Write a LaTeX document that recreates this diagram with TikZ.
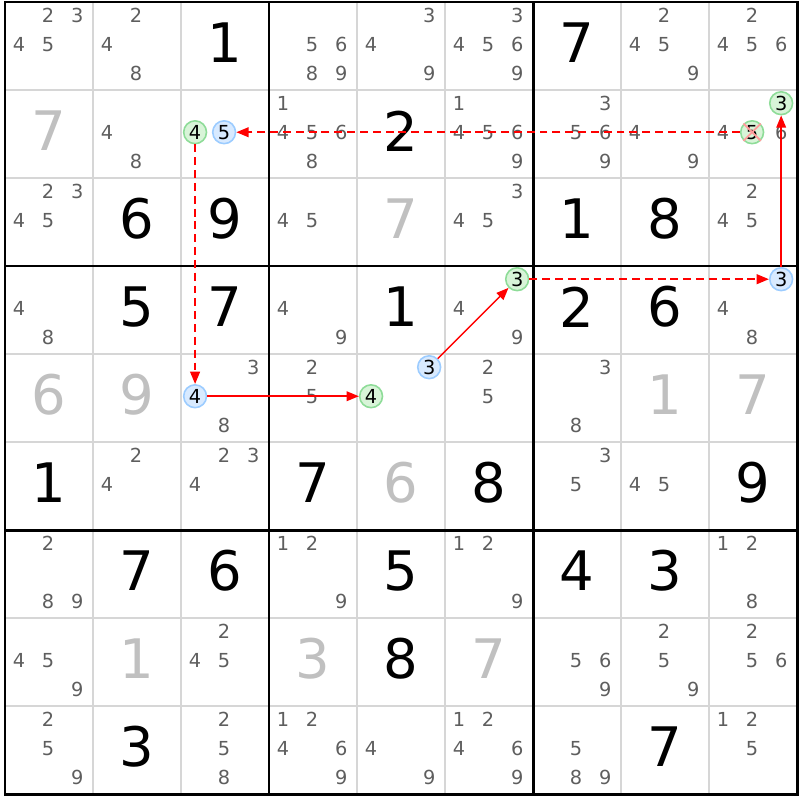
\documentclass[tikz,border=0pt]{standalone}
\usepackage{fontspec}
\setmainfont{DejaVu Sans}
\usetikzlibrary{arrows.meta}
\definecolor{pencil}{HTML}{5E5E5E}
\definecolor{faintgray}{HTML}{C0C0C0}
\definecolor{gridgray}{HTML}{D6D6D6}
\definecolor{onfill}{HTML}{D8F4D8}
\definecolor{ongreen}{HTML}{8EDC98}
\definecolor{offfill}{HTML}{D8EAFF}
\definecolor{offblue}{HTML}{9CCCFF}
\definecolor{xpink}{HTML}{FF9C9C}
\definecolor{linkred}{HTML}{FF0000}
\tikzset{
  cand/.style={inner sep=0pt, text=pencil, font=\fontsize{11}{11}\selectfont},
  given/.style={inner sep=0pt, font=\fontsize{31}{31}\selectfont},
  faint/.style={given, text=faintgray},
  oncand/.style={circle, draw=ongreen, fill=onfill, text=black, line width=0.9pt, minimum size=13pt},
  offcand/.style={circle, draw=offblue, fill=offfill, text=black, line width=0.9pt, minimum size=13pt},
  thingrid/.style={draw=gridgray, line width=0.85pt},
  boxline/.style={line width=1.7pt},
  stronglink/.style={color=linkred, line width=0.9pt, -{Triangle[length=7pt,width=5.5pt]}},
  weaklink/.style={stronglink, line width=1.1pt, dash pattern=on 4.5pt off 2.8pt},
  elim/.style={draw=xpink, line width=1.1pt}
}
\newcommand\cand[4][]{\node[cand,#1] (n-#2-#3-#4) at ({#3-0.84+0.33*mod(#4-1,3)},{#2-0.85+0.33*int((#4-1)/3)}) {#4};}
\newcommand\cands[3]{\foreach \d in {#3}{\cand{#1}{#2}{\d}}}
\newcommand\givendigit[4][given]{\node[#1] (g-#2-#3) at (#3-0.5,#2-0.535) {#4};}
\begin{document}
\begin{tikzpicture}[x=1.76cm,y=-1.76cm]
  \useasboundingbox (-0.056818,-0.022727) rectangle (9.034091,9.068182);
  \foreach \i in {1,2,4,5,7,8}
    \draw[thingrid] (\i,0) -- (\i,9) (0,\i) -- (9,\i);
  \foreach \i in {3,6}
    \draw[boxline] (\i,0) -- (\i,9) (0,\i) -- (9,\i);
  \draw[boxline] (0,0) rectangle (9,9);

  \givendigit{1}{3}{1}
  \givendigit{1}{7}{7}
  \givendigit[faint]{2}{1}{7}
  \givendigit{2}{5}{2}
  \givendigit{3}{2}{6}
  \givendigit{3}{3}{9}
  \givendigit[faint]{3}{5}{7}
  \givendigit{3}{7}{1}
  \givendigit{3}{8}{8}
  \givendigit{4}{2}{5}
  \givendigit{4}{3}{7}
  \givendigit{4}{5}{1}
  \givendigit{4}{7}{2}
  \givendigit{4}{8}{6}
  \givendigit[faint]{5}{1}{6}
  \givendigit[faint]{5}{2}{9}
  \givendigit[faint]{5}{8}{1}
  \givendigit[faint]{5}{9}{7}
  \givendigit{6}{1}{1}
  \givendigit{6}{4}{7}
  \givendigit[faint]{6}{5}{6}
  \givendigit{6}{6}{8}
  \givendigit{6}{9}{9}
  \givendigit{7}{2}{7}
  \givendigit{7}{3}{6}
  \givendigit{7}{5}{5}
  \givendigit{7}{7}{4}
  \givendigit{7}{8}{3}
  \givendigit[faint]{8}{2}{1}
  \givendigit[faint]{8}{4}{3}
  \givendigit{8}{5}{8}
  \givendigit[faint]{8}{6}{7}
  \givendigit{9}{2}{3}
  \givendigit{9}{8}{7}

  \cands{1}{1}{2,3,4,5}
  \cands{1}{2}{2,4,8}
  \cands{1}{4}{5,6,8,9}
  \cands{1}{5}{3,4,9}
  \cands{1}{6}{3,4,5,6,9}
  \cands{1}{8}{2,4,5,9}
  \cands{1}{9}{2,4,5,6}
  \cands{2}{2}{4,8}
  \cands{2}{4}{1,4,5,6,8}
  \cands{2}{6}{1,4,5,6,9}
  \cands{2}{7}{3,5,6,9}
  \cands{2}{8}{4,9}
  \cands{2}{9}{4,6}
  \cands{3}{1}{2,3,4,5}
  \cands{3}{4}{4,5}
  \cands{3}{6}{3,4,5}
  \cands{3}{9}{2,4,5}
  \cands{4}{1}{4,8}
  \cands{4}{4}{4,9}
  \cands{4}{6}{4,9}
  \cands{4}{9}{4,8}
  \cands{5}{3}{3,8}
  \cands{5}{4}{2,5}
  \cands{5}{6}{2,5}
  \cands{5}{7}{3,8}
  \cands{6}{2}{2,4}
  \cands{6}{3}{2,3,4}
  \cands{6}{7}{3,5}
  \cands{6}{8}{4,5}
  \cands{7}{1}{2,8,9}
  \cands{7}{4}{1,2,9}
  \cands{7}{6}{1,2,9}
  \cands{7}{9}{1,2,8}
  \cands{8}{1}{4,5,9}
  \cands{8}{3}{2,4,5}
  \cands{8}{7}{5,6,9}
  \cands{8}{8}{2,5,9}
  \cands{8}{9}{2,5,6}
  \cands{9}{1}{2,5,9}
  \cands{9}{3}{2,5,8}
  \cands{9}{4}{1,2,4,6,9}
  \cands{9}{5}{4,9}
  \cands{9}{6}{1,2,4,6,9}
  \cands{9}{7}{5,8,9}
  \cands{9}{9}{1,2,5}

  \cand[oncand]{2}{3}{4}
  \cand[offcand]{2}{3}{5}
  \cand[oncand]{2}{9}{3}
  \cand[oncand]{2}{9}{5}
  \cand[oncand]{4}{6}{3}
  \cand[offcand]{4}{9}{3}
  \cand[offcand]{5}{3}{4}
  \cand[offcand]{5}{5}{3}
  \cand[oncand]{5}{5}{4}

  \begin{scope}
    \draw[stronglink] (n-5-5-3) -- (n-4-6-3);
    \draw[weaklink] (n-4-6-3) -- (n-4-9-3);
    \draw[stronglink] (n-4-9-3) -- (n-2-9-3);
    \draw[weaklink] (n-2-9-5) -- (n-2-3-5);
    \draw[weaklink] (n-2-3-4) -- (n-5-3-4);
    \draw[stronglink] (n-5-3-4) -- (n-5-5-4);
  \end{scope}
  \draw[elim] (n-2-9-5.north west) -- (n-2-9-5.south east)
              (n-2-9-5.north east) -- (n-2-9-5.south west);
\end{tikzpicture}
\end{document}
